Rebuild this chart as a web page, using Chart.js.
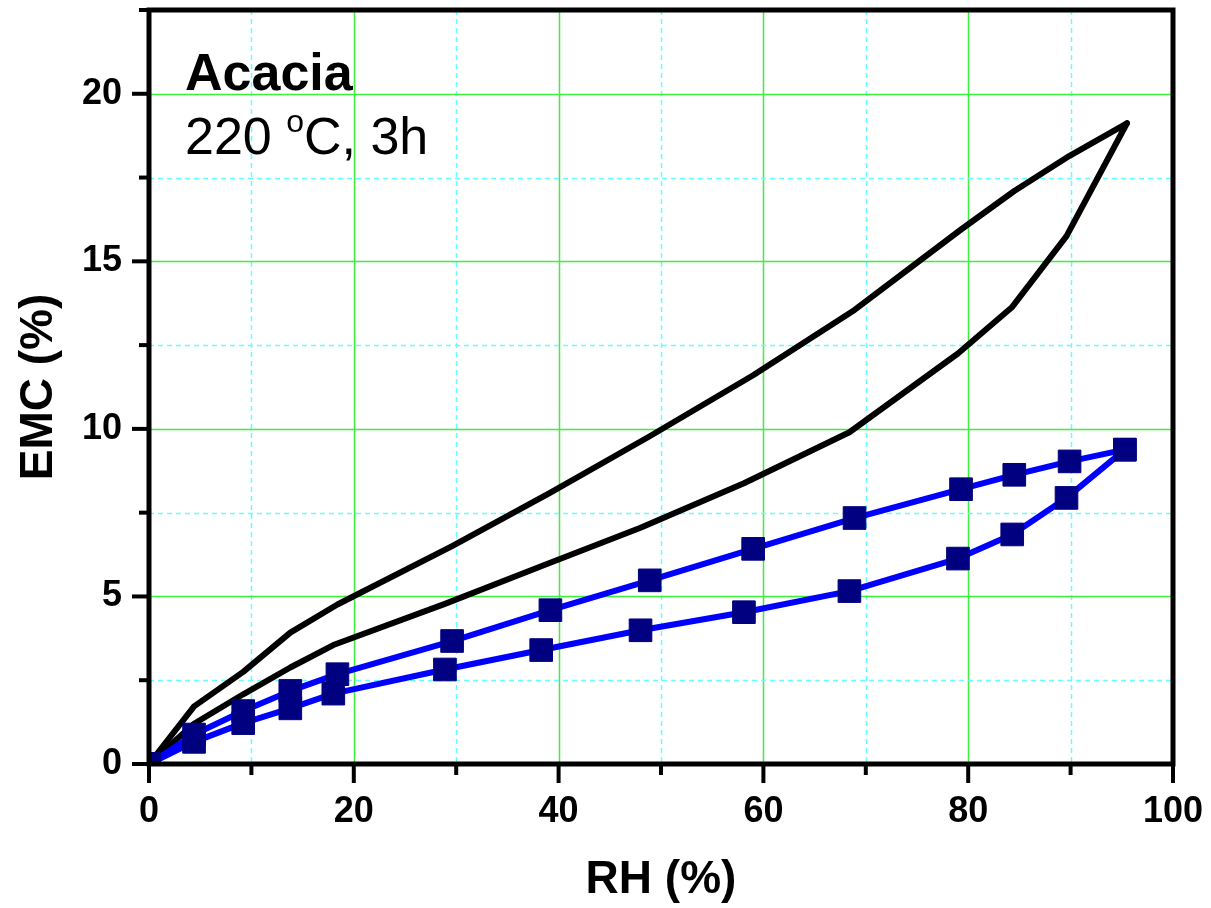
<!DOCTYPE html>
<html>
<head>
<meta charset="utf-8">
<title>Acacia EMC isotherm</title>
<script src="https://cdn.jsdelivr.net/npm/chart.js@4"></script>
<style>
  html, body { margin: 0; padding: 0; background: #fff; }
  #wrap { width: 1211px; height: 908px; }
</style>
</head>
<body>
<div id="wrap"><canvas id="emcChart" width="1211" height="908"></canvas></div>
<script>
// relative humidity (%) and equilibrium moisture content (%)
var rhDesTreated = [0, 4.4, 9.2, 13.8, 18.4, 29.6, 39.2, 48.9, 59.0, 68.9, 79.3, 84.5, 89.9, 95.3];
var emcDesTreated = [0, 0.88, 1.58, 2.18, 2.68, 3.67, 4.59, 5.48, 6.42, 7.34, 8.20, 8.63, 9.03, 9.38];
var rhAdsTreated = [0, 4.4, 9.2, 13.8, 18.0, 28.9, 38.3, 48.0, 58.1, 68.4, 79.0, 84.3, 89.6, 95.3];
var emcAdsTreated = [0, 0.66, 1.22, 1.66, 2.10, 2.82, 3.40, 3.99, 4.53, 5.16, 6.13, 6.85, 7.94, 9.38];

var rhDesControl = [0, 4.4, 9.2, 13.8, 18.4, 29.6, 39.2, 48.9, 59.0, 68.9, 79.3, 84.5, 89.9, 95.5];
var emcDesControl = [0, 1.72, 2.75, 3.92, 4.76, 6.5, 8.1, 9.78, 11.6, 13.55, 15.95, 17.1, 18.15, 19.12];
var rhAdsControl = [0, 4.4, 9.2, 13.8, 18.0, 28.9, 38.3, 48.0, 58.1, 68.4, 79.0, 84.3, 89.6, 95.5];
var emcAdsControl = [0, 1.2, 2.08, 2.88, 3.55, 4.78, 5.9, 7.05, 8.38, 9.9, 12.25, 13.64, 15.75, 19.12];

var xTicks = [0, 20, 40, 60, 80, 100];
var yTicks = [0, 5, 10, 15, 20];

function pts(xs, ys) {
    return xs.map(function (x, i) { return { x: x, y: ys[i] }; });
}

var FONT = '"Liberation Sans", Arial, sans-serif';

// grid lines: solid green on labelled ticks, dashed cyan in between
var gridPlugin = {
    id: 'grid2',
    beforeDatasetsDraw: function (chart) {
        var ctx = chart.ctx, a = chart.chartArea;
        var xs = chart.scales.x, ys = chart.scales.y;
        ctx.save();
        ctx.lineWidth = 1.5;
        xs.ticks.forEach(function (t) {
            if (t.value <= xs.min || t.value >= xs.max) return;
            var px = Math.round(xs.getPixelForValue(t.value)) + 0.5;
            var major = xTicks.indexOf(t.value) >= 0;
            ctx.strokeStyle = major ? '#3cf03c' : '#66ffff';
            ctx.setLineDash(major ? [] : [5, 4]);
            ctx.beginPath(); ctx.moveTo(px, a.top); ctx.lineTo(px, a.bottom); ctx.stroke();
        });
        ys.ticks.forEach(function (t) {
            if (t.value <= ys.min || t.value >= ys.max) return;
            var py = Math.round(ys.getPixelForValue(t.value)) + 0.5;
            var major = yTicks.indexOf(t.value) >= 0;
            ctx.strokeStyle = major ? '#3cf03c' : '#66ffff';
            ctx.setLineDash(major ? [] : [5, 4]);
            ctx.beginPath(); ctx.moveTo(a.left, py); ctx.lineTo(a.right, py); ctx.stroke();
        });
        ctx.restore();
    }
};

// box frame, outward tick marks and the sample note
var framePlugin = {
    id: 'frame',
    afterDraw: function (chart) {
        var ctx = chart.ctx, a = chart.chartArea;
        var xs = chart.scales.x, ys = chart.scales.y;
        ctx.save();
        ctx.strokeStyle = '#000';
        ctx.lineWidth = 4;
        xs.ticks.forEach(function (t) {
            var px = xs.getPixelForValue(t.value);
            var len = xTicks.indexOf(t.value) >= 0 ? 19 : 11;
            ctx.beginPath(); ctx.moveTo(px, a.bottom); ctx.lineTo(px, a.bottom + len); ctx.stroke();
        });
        ys.ticks.forEach(function (t) {
            var py = ys.getPixelForValue(t.value);
            var len = yTicks.indexOf(t.value) >= 0 ? 17 : 10;
            ctx.beginPath(); ctx.moveTo(a.left, py); ctx.lineTo(a.left - len, py); ctx.stroke();
        });
        ctx.lineWidth = 5;
        ctx.strokeRect(a.left, a.top, a.right - a.left, a.bottom - a.top);

        ctx.fillStyle = '#000';
        ctx.textBaseline = 'alphabetic';
        ctx.textAlign = 'left';
        var x0 = a.left + 36;
        ctx.font = 'bold 52px ' + FONT;
        ctx.fillText('Acacia', x0, a.top + 80);
        ctx.font = '52px ' + FONT;
        var line2 = a.top + 144;
        ctx.fillText('220 ', x0, line2);
        var w = ctx.measureText('220 ').width;
        ctx.font = '32px ' + FONT;
        ctx.fillText('o', x0 + w, line2 - 22);
        w += ctx.measureText('o').width;
        ctx.font = '52px ' + FONT;
        ctx.fillText('C, 3h', x0 + w, line2);
        ctx.restore();
    }
};

var ctx = document.getElementById('emcChart').getContext('2d');
var chart = new Chart(ctx, {
    type: 'line',
    data: {
        datasets: [{
            data: pts(rhDesTreated, emcDesTreated),
            showLine: false,
            pointStyle: 'rect',
            pointRadius: 16,
            pointBackgroundColor: '#000080',
            pointBorderColor: '#000080',
            pointBorderWidth: 1
        },
        {
            data: pts(rhAdsTreated, emcAdsTreated),
            showLine: false,
            pointStyle: 'rect',
            pointRadius: 16,
            pointBackgroundColor: '#000080',
            pointBorderColor: '#000080',
            pointBorderWidth: 1
        },
        {
            data: pts(rhDesTreated, emcDesTreated),
            borderColor: '#0000ff',
            borderWidth: 6,
            pointRadius: 0
        },
        {
            data: pts(rhAdsTreated, emcAdsTreated),
            borderColor: '#0000ff',
            borderWidth: 6,
            pointRadius: 0
        },
        {
            data: pts(rhDesControl, emcDesControl),
            borderColor: '#000',
            borderWidth: 6,
            pointRadius: 0
        },
        {
            data: pts(rhAdsControl, emcAdsControl),
            borderColor: '#000',
            borderWidth: 6,
            pointRadius: 0
        }]
    },
    options: {
        responsive: false,
        animation: false,
        layout: { autoPadding: false, padding: { top: 10, right: 38, left: 0, bottom: 0 } },
        plugins: { legend: { display: false }, tooltip: { enabled: false } },
        elements: { line: { tension: 0, borderJoinStyle: 'round', borderCapStyle: 'round' } },
        scales: {
            x: {
                type: 'linear',
                min: 0,
                max: 100,
                afterFit: function (s) {
                    s.height = 144;
                    s.paddingLeft = 0;
                    s.paddingRight = 0;
                },
                grid: { display: false, drawTicks: false },
                border: { display: false },
                ticks: {
                    stepSize: 10,
                    padding: 26,
                    color: '#000',
                    font: { family: FONT, size: 36, weight: 'bold' },
                    maxRotation: 0,
                    callback: function (v) { return xTicks.indexOf(v) >= 0 ? v : ''; }
                },
                title: {
                    display: true,
                    text: 'RH (%)',
                    color: '#000',
                    font: { family: FONT, size: 46, weight: 'bold' },
                    padding: { top: 0, bottom: 0 }
                }
            },
            y: {
                type: 'linear',
                min: 0,
                max: 22.5,
                afterFit: function (s) {
                    s.width = 149;
                    s.paddingTop = 0;
                    s.paddingBottom = 0;
                },
                grid: { display: false, drawTicks: false },
                border: { display: false },
                ticks: {
                    stepSize: 2.5,
                    padding: 27,
                    color: '#000',
                    font: { family: FONT, size: 36, weight: 'bold' },
                    callback: function (v) { return yTicks.indexOf(v) >= 0 ? v : ''; }
                },
                title: {
                    display: true,
                    text: 'EMC (%)',
                    color: '#000',
                    font: { family: FONT, size: 46, weight: 'bold' },
                    padding: { top: 12, bottom: 0 }
                }
            }
        }
    },
    plugins: [gridPlugin, framePlugin]
});
</script>
</body>
</html>
